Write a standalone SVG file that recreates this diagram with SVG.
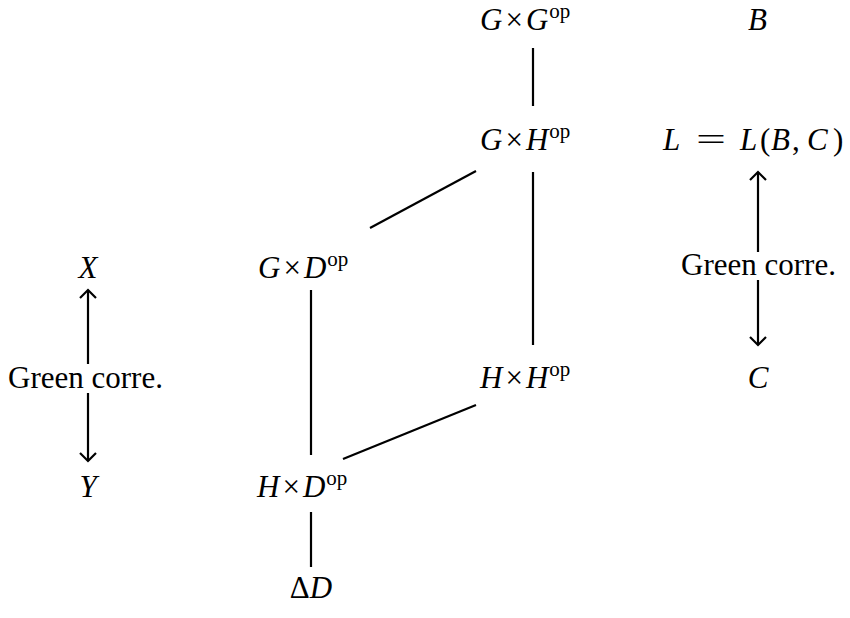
<svg xmlns="http://www.w3.org/2000/svg" width="850" height="618" viewBox="0 0 850 618">
<style>
text{font-family:"Liberation Serif","Times New Roman",serif;font-size:31px;fill:#000}
.i{font-style:italic}
.s{font-size:21px}
line,path{stroke:#000;stroke-width:2.2;fill:none}
</style>
<rect width="850" height="618" fill="#fff"/>
<g id="GxGop"><text x="480" y="30"><tspan class="i">G</tspan><tspan dx="3">×</tspan><tspan class="i" dx="3">G</tspan><tspan class="s" dx="1" dy="-12">op</tspan></text></g>
<g id="B"><text x="748" y="30" class="i">B</text></g>
<g id="GxHop"><text x="480" y="150"><tspan class="i">G</tspan><tspan dx="3">×</tspan><tspan class="i" dx="3">H</tspan><tspan class="s" dx="1" dy="-12">op</tspan></text></g>
<g id="L"><text x="663" y="150" class="i">L</text><text x="696" y="150" textLength="30" lengthAdjust="spacingAndGlyphs">=</text><text y="150"><tspan class="i" x="740">L</tspan><tspan x="760">(</tspan><tspan class="i" x="771">B</tspan><tspan x="792">,</tspan><tspan class="i" x="807">C</tspan><tspan x="833">)</tspan></text></g>
<g id="GxDop"><text x="258" y="278"><tspan class="i">G</tspan><tspan dx="3">×</tspan><tspan class="i" dx="3">D</tspan><tspan class="s" dx="1" dy="-12">op</tspan></text></g>
<g id="X"><text x="88" y="278" class="i" text-anchor="middle">X</text></g>
<g id="HxHop"><text x="480" y="388"><tspan class="i">H</tspan><tspan dx="3">×</tspan><tspan class="i" dx="3">H</tspan><tspan class="s" dx="1" dy="-12">op</tspan></text></g>
<g id="C"><text x="758" y="388" class="i" text-anchor="middle">C</text></g>
<g id="Y"><text x="88" y="497" class="i" text-anchor="middle">Y</text></g>
<g id="HxDop"><text x="257" y="497"><tspan class="i">H</tspan><tspan dx="3">×</tspan><tspan class="i" dx="3">D</tspan><tspan class="s" dx="1" dy="-12">op</tspan></text></g>
<g id="DeltaD"><text x="311" y="598" text-anchor="middle">Δ<tspan class="i">D</tspan></text></g>
<g id="greenL"><text x="8" y="388">Green corre.</text></g>
<g id="greenR"><text x="681" y="275">Green corre.</text></g>
<g id="connectors">
<line x1="533" y1="48" x2="533" y2="106"/>
<line x1="533" y1="172" x2="533" y2="345"/>
<line x1="370" y1="228" x2="476" y2="171"/>
<line x1="343" y1="459" x2="476" y2="405"/>
<line x1="311" y1="290" x2="311" y2="455"/>
<line x1="311" y1="512" x2="311" y2="567"/>
<line x1="88" y1="290" x2="88" y2="364"/>
<line x1="88" y1="393" x2="88" y2="461"/>
<path d="M80 298 L88 290 L96 298"/>
<path d="M80 453 L88 461 L96 453"/>
<line x1="758" y1="172" x2="758" y2="252"/>
<line x1="758" y1="280" x2="758" y2="345"/>
<path d="M750 180 L758 172 L766 180"/>
<path d="M750 337 L758 345 L766 337"/>
</g>
</svg>
